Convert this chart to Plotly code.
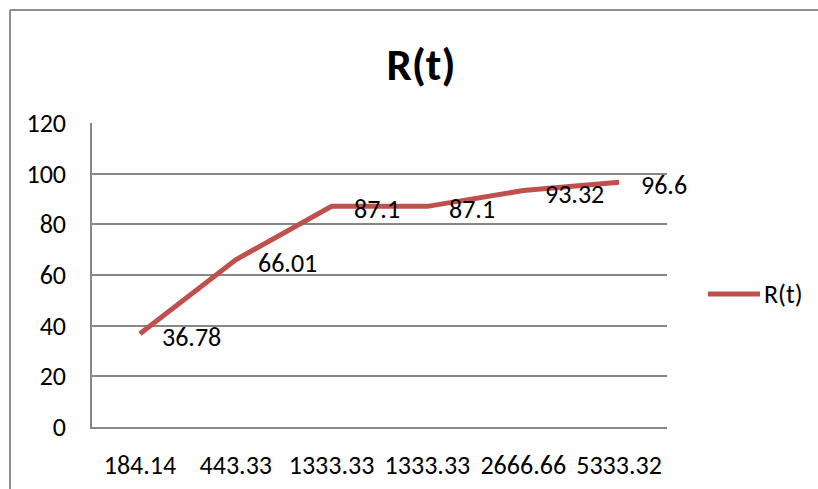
import plotly.graph_objects as go

# Reliability R(t) by operating time
time_labels = ["184.14", "443.33", "1333.33", "1333.33", "2666.66", "5333.32"]
r_values = [36.78, 66.01, 87.1, 87.1, 93.32, 96.6]
series_name = "R(t)"
y_ticks = [0, 20, 40, 60, 80, 100, 120]

LINE_COLOR = "#C0504D"
GRID_COLOR = "#878787"
FONT = "Carlito, Lato, sans-serif"
TXT = 26

positions = list(range(len(time_labels)))

fig = go.Figure()
fig.add_trace(go.Scatter(
    x=positions,
    y=r_values,
    mode="lines",
    line=dict(color=LINE_COLOR, width=5),
    name=series_name,
    showlegend=False,
    hoverinfo="x+y",
))

# value labels to the right of each point
for xp, v in zip(positions, r_values):
    fig.add_annotation(
        x=xp, y=v, xref="x", yref="y",
        text=f"{v:g}",
        showarrow=False,
        xanchor="left", yanchor="middle",
        xshift=20, yshift=-3,
        font=dict(family=FONT, size=TXT, color="#000000"),
    )

# legend entry (line swatch + text)
fig.add_shape(type="line", xref="paper", yref="paper",
              x0=1.0713, x1=1.1617, y0=0.4375, y1=0.4375,
              line=dict(color=LINE_COLOR, width=5))
fig.add_annotation(x=1.166, y=0.4375, xref="paper", yref="paper",
                   text=series_name, showarrow=False,
                   xanchor="left", yanchor="middle",
                   font=dict(family=FONT, size=TXT, color="#000000"))

# chart frame (left and top edges)
fig.add_shape(type="line", xref="paper", yref="paper",
              x0=-0.1426, x1=-0.1426, y0=1.3717, y1=-0.25,
              line=dict(color="#8e8e8e", width=2))
fig.add_shape(type="line", xref="paper", yref="paper",
              x0=-0.1426, x1=1.45, y0=1.3717, y1=1.3717,
              line=dict(color="#8e8e8e", width=2))

fig.update_layout(
    width=818, height=489,
    margin=dict(l=92, r=151, t=123, b=62),
    paper_bgcolor="white", plot_bgcolor="white",
    font=dict(family=FONT, size=TXT, color="#000000"),
    title=dict(text="<b>R(t)</b>", x=421 / 818, xref="container", xanchor="center",
               y=1 - 64 / 489, yref="container", yanchor="middle",
               font=dict(family=FONT, size=45, color="#000000")),
    showlegend=False,
)
fig.update_xaxes(
    range=[-0.5, len(time_labels) - 0.5],
    tickvals=positions, ticktext=time_labels,
    showgrid=False, zeroline=False,
    showline=True, linecolor=GRID_COLOR, linewidth=1.5,
    ticks="", ticklabelstandoff=14, automargin=False,
    tickfont=dict(family=FONT, size=TXT, color="#000000"),
)
fig.update_yaxes(
    range=[0, 120], tickvals=y_ticks,
    showgrid=True, gridcolor=GRID_COLOR, gridwidth=1.5,
    zeroline=False,
    showline=True, linecolor=GRID_COLOR, linewidth=1.5,
    ticks="", ticklabelstandoff=19, automargin=False,
    tickfont=dict(family=FONT, size=TXT, color="#000000"),
)

fig.write_html("out.html")
